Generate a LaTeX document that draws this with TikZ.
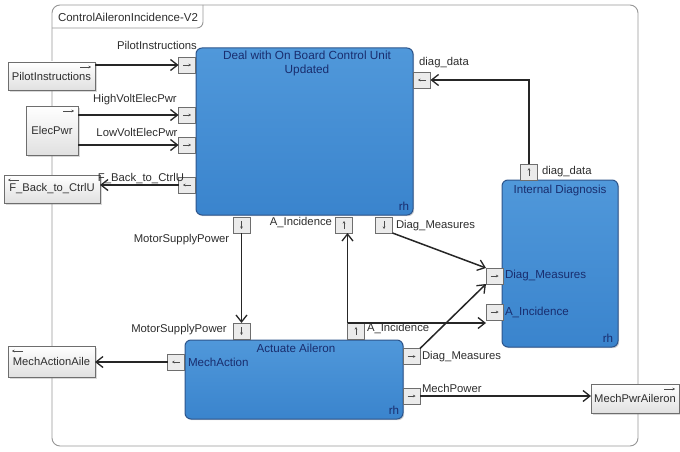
\documentclass[tikz,border=0pt]{standalone}
\usepackage{fontspec}
\setmainfont{Liberation Sans}
\usetikzlibrary{arrows.meta,shadows}
\definecolor{blkblue}{RGB}{58,132,205}
\definecolor{blktop}{RGB}{80,152,218}
\definecolor{blkedge}{RGB}{45,85,140}
\definecolor{navy}{RGB}{25,45,110}
\definecolor{portfill}{RGB}{235,235,235}
\definecolor{portedge}{RGB}{110,110,110}
\definecolor{framegray}{RGB}{150,150,150}
\definecolor{txtgray}{RGB}{45,45,45}
\tikzset{
  every node/.style={inner sep=0pt, outer sep=0pt},
  lbl/.style={font=\fontsize{11.3}{13}\selectfont, text=txtgray},
  inlbl/.style={font=\fontsize{11.6}{13}\selectfont, text=navy},
  blk/.style={rounded corners=6pt, top color=blktop, bottom color=blkblue, draw=blkedge, line width=1pt,
    drop shadow={shadow xshift=1.2pt, shadow yshift=-1.2pt, opacity=0.35}},
  portbox/.style={draw=portedge, fill=portfill, line width=0.6pt, minimum width=17pt, minimum height=16pt},
  parr/.style={draw=black!70, line width=0.5pt, -{Stealth[length=2.5pt,width=2.5pt]}},
  portR/.style={portbox, path picture={\draw[parr] ([xshift=-4pt]path picture bounding box.center) -- ([xshift=4pt]path picture bounding box.center);}},
  portL/.style={portbox, path picture={\draw[parr] ([xshift=4pt]path picture bounding box.center) -- ([xshift=-4pt]path picture bounding box.center);}},
  portU/.style={portbox, path picture={\draw[parr] ([yshift=-4pt]path picture bounding box.center) -- ([yshift=4pt]path picture bounding box.center);}},
  portD/.style={portbox, path picture={\draw[parr] ([yshift=4pt]path picture bounding box.center) -- ([yshift=-4pt]path picture bounding box.center);}},
  ext/.style={draw=portedge, top color=white, bottom color=black!12, line width=0.7pt,
    font=\fontsize{11.2}{13}\selectfont, text=txtgray,
    drop shadow={shadow xshift=1.5pt, shadow yshift=-1.5pt, opacity=0.3}},
  extR/.style={ext, path picture={\draw[parr] ([xshift=-15pt,yshift=-5pt]path picture bounding box.north east) -- ([xshift=-4pt,yshift=-5pt]path picture bounding box.north east);}},
  extL/.style={ext, path picture={\draw[parr] ([xshift=15pt,yshift=-5pt]path picture bounding box.north west) -- ([xshift=4pt,yshift=-5pt]path picture bounding box.north west);}},
  conn/.style={draw=black!85, line width=1.5pt, -{Straight Barb[length=7pt,width=11pt,line width=1.3pt]}},
  frameline/.style={draw=framegray, line width=0.9pt}
}
\begin{document}
\begin{tikzpicture}[x=1pt,y=-1pt]
\useasboundingbox (0,0) rectangle (680,452);
% frame
\node[frameline, rounded corners=8pt, minimum width=586pt, minimum height=441pt] (frame) at (345,225.5) {};
\draw[frameline, rounded corners=6pt] (52,28) -- (203,28) -- (203,5);
\node[font=\fontsize{11.5}{13}\selectfont, text=txtgray] (ftitle) at (128,17) {ControlAileronIncidence-V2};

% blocks
\node[blk, minimum width=217pt, minimum height=167pt] (main) at (304.5,131.5) {};
\node[inlbl, align=center, font=\fontsize{11.8}{14}\selectfont, anchor=north] (maint) at (307,51) {Deal with On Board Control Unit\\Updated};
\node[inlbl] (mainrh) at (404,206) {rh};

\node[blk, minimum width=218pt, minimum height=79pt] (act) at (294,379.5) {};
\node[inlbl] (actt) at (296,348) {Actuate Aileron};
\node[inlbl, anchor=west] (actma) at (188,362) {MechAction};
\node[inlbl] (actrh) at (394,410) {rh};

\node[blk, minimum width=116pt, minimum height=167pt] (idg) at (560,263.5) {};
\node[inlbl] (idgt) at (560,190) {Internal Diagnosis};
\node[inlbl, anchor=west] (idgdm) at (505,275) {Diag\_Measures};
\node[inlbl, anchor=west] (idgai) at (505,312) {A\_Incidence};
\node[inlbl] (idgrh) at (608,338) {rh};

% ports of main
\node[portR] (mPI) at (187,65) {};
\node[portR] (mHV) at (187,115) {};
\node[portR] (mLV) at (187,145) {};
\node[portL] (mFB) at (187,185) {};
\node[portL] (mDD) at (422,80) {};
\node[portD] (mMS) at (241.5,225) {};
\node[portU] (mAI) at (344,225) {};
\node[portD] (mDM) at (384,225) {};
% ports of actuate
\node[portD] (aMS) at (241.5,331) {};
\node[portU] (aAI) at (356,331) {};
\node[portL] (aMA) at (176,362) {};
\node[portR] (aDM) at (411.5,356.5) {};
\node[portR] (aMP) at (411.5,396) {};
% ports of internal diagnosis
\node[portU] (iDD) at (529,172) {};
\node[portR] (iDM) at (494.5,276) {};
\node[portR] (iAI) at (494.5,312) {};

% external boxes
\node[extR, minimum width=87pt, minimum height=28pt] (xPI) at (51.5,76) {PilotInstructions};
\node[extR, minimum width=52pt, minimum height=49pt] (xEP) at (52,130.5) {ElecPwr};
\node[extL, minimum width=96pt, minimum height=28pt] (xFB) at (52,189) {F\_Back\_to\_CtrlU};
\node[extL, minimum width=87pt, minimum height=31pt] (xMA) at (51.5,361.5) {MechActionAile};
\node[extR, minimum width=88pt, minimum height=29pt] (xMP) at (635,398.5) {MechPwrAileron};

% connectors
\draw[conn] (xPI.east |- mPI.west) -- (mPI.west);
\draw[conn] (xEP.east |- mHV.west) -- (mHV.west);
\draw[conn] (xEP.east |- mLV.west) -- (mLV.west);
\draw[conn] (mFB.west) -- (xFB.east |- mFB.west);
\draw[conn] (iDD.north) |- (mDD.east);
\draw[conn] (mMS.south) -- (aMS.north);
\draw[conn] (aAI.north west) -- (aAI.north west |- mAI.south);
\draw[conn] (aAI.north west) -- (aAI.north west -| iAI.west);
\draw[conn] (mDM.south east) -- (iDM.north west);
\draw[conn] (aDM.north east) -- (iDM.south west);
\draw[conn] (aMA.west) -- (xMA.east |- aMA.west);
\draw[conn] (aMP.east) -- (xMP.west |- aMP.east);

% connector labels
\node[lbl] (lPI) at (157,45) {PilotInstructions};
\node[lbl] (lHV) at (135,100) {HighVoltElecPwr};
\node[lbl] (lLV) at (137,132) {LowVoltElecPwr};
\node[lbl] (lFB) at (141,179) {F\_Back\_to\_CtrlU};
\node[lbl] (lDD) at (444,63) {diag\_data};
\node[lbl] (lMS1) at (181.5,240) {MotorSupplyPower};
\node[lbl, anchor=east] (lAI1) at (332,223) {A\_Incidence};
\node[lbl, anchor=west] (lDM1) at (396,226) {Diag\_Measures};
\node[lbl] (lMS2) at (179,330) {MotorSupplyPower};
\node[lbl, anchor=west] (lAI2) at (367,329) {A\_Incidence};
\node[lbl, anchor=west] (lDM2) at (422,357) {Diag\_Measures};
\node[lbl, anchor=west] (lMP) at (422,388) {MechPower};
\node[lbl, anchor=west] (lDD2) at (542,172) {diag\_data};
\end{tikzpicture}
\end{document}
